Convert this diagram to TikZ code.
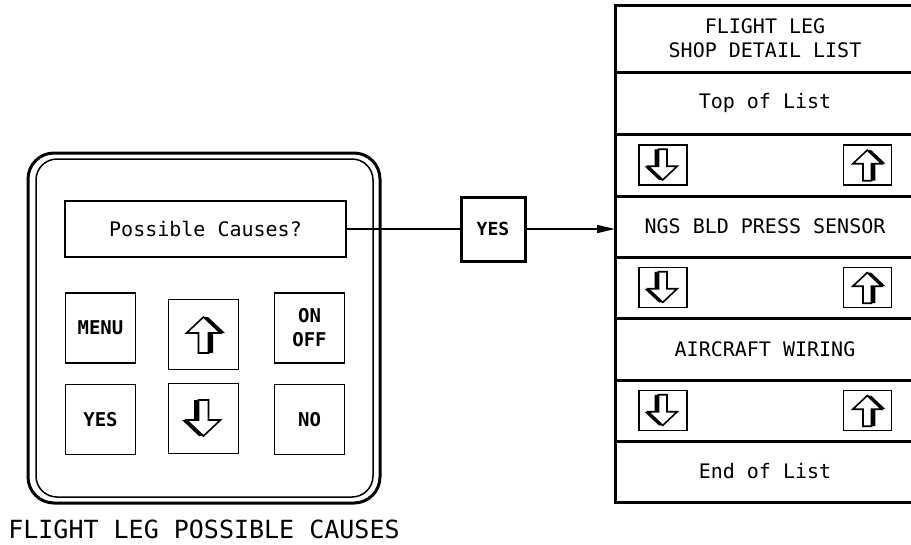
\documentclass[tikz,border=0pt]{standalone}
\usepackage{fontspec}
\setmonofont{DejaVu Sans Mono}
\usepackage{tikz}
\usetikzlibrary{arrows.meta,positioning}

\tikzset{
  pics/uparr/.style={code={
    \fill[black] (0,-17.5) -- (4.5,-17.5) -- (21.5,-1.5) -- (9.5,-1.5) -- (9.5,18.5)
      -- (-0.5,18.5) -- (-0.5,-1.5) -- (-12.5,-1.5) -- cycle;
    \filldraw[fill=white, draw=black, line width=1.6pt] (0,-17.5) -- (17,-1.5) -- (5,-1.5)
      -- (5,18.5) -- (-5,18.5) -- (-5,-1.5) -- (-17,-1.5) -- cycle;
  }}
}

\begin{document}
\begin{tikzpicture}[
  x=1pt, y=-1pt,
  every node/.style={font=\ttfamily\fontsize{20}{24}\selectfont, inner sep=0pt},
  btn/.style={draw, line width=1.5pt, minimum size=70pt, align=center,
    font=\ttfamily\bfseries\fontsize{19}{24}\selectfont},
  lrow/.style={draw, line width=3pt, outer sep=0pt, minimum width=300pt,
    align=center},
  sbox/.style={draw, line width=1.5pt, minimum width=48pt, minimum height=40pt},
  conn/.style={draw, line width=1.5pt}
]
\useasboundingbox (0,0) rectangle (911,544);
\clip (0,0) rectangle (911,544);

\node[draw, line width=3pt, outer sep=0pt, rounded corners=26pt,
  minimum width=352pt, minimum height=350pt] (panel) at (204,328) {};
\draw[line width=1.5pt, rounded corners=21pt]
  ([shift={(8,6)}]panel.north west) rectangle ([shift={(-7,-6)}]panel.south east);

\node[draw, line width=1.5pt, minimum width=281pt, minimum height=56pt] (disp)
  at (205.5,229) {Possible Causes?};

\node[btn] (menu) at (100.5,328) {MENU};
\node[btn] (upkey) at (203.5,334.5) {};
\node[btn] (onoff) at (309.5,328) {ON\\OFF};
\node[btn, below=20pt of menu] (yeskey) {YES};
\node[btn, below=20pt of onoff] (nokey) {NO};
\node[btn] (dnkey) at (203.5,418.5) {};
\pic at (upkey) {uparr};
\pic[rotate=180] at (dnkey) {uparr};

\node[below=17pt of panel, font=\ttfamily\fontsize{25}{30}\selectfont] (cap)
  {FLIGHT LEG POSSIBLE CAUSES};

\node[draw, line width=3pt, minimum size=64pt,
  font=\ttfamily\bfseries\fontsize{18}{22}\selectfont] (yesbox) at (493,229) {YES};

\node[lrow, minimum height=67pt, anchor=north] (head) at (765,5)
  {FLIGHT LEG\\SHOP DETAIL LIST};
\node[lrow, minimum height=62pt, below=0pt of head] (toplist) {Top of List};
\node[lrow, minimum height=62pt, below=0pt of toplist] (row1) {};
\node[lrow, minimum height=61pt, below=0pt of row1] (ngs) {NGS BLD PRESS SENSOR};
\node[lrow, minimum height=61pt, below=0pt of ngs] (row2) {};
\node[lrow, minimum height=62pt, below=0pt of row2] (wiring) {AIRCRAFT WIRING};
\node[lrow, minimum height=61pt, below=0pt of wiring] (row3) {};
\node[lrow, minimum height=61pt, below=0pt of row3] (endlist) {End of List};

\foreach \r in {row1,row2,row3} {
  \node[sbox, right=23pt of \r.west] (\r-dn) {};
  \node[sbox, left=23pt of \r.east] (\r-up) {};
  \pic[scale=.85, rotate=180] at (\r-dn) {uparr};
  \pic[scale=.85] at (\r-up) {uparr};
}

\draw[conn] (disp) -- (yesbox);
\draw[conn, -{Triangle[length=18pt, width=8pt]}] (yesbox.east) -- (yesbox.east -| ngs.west);
\end{tikzpicture}
\end{document}
